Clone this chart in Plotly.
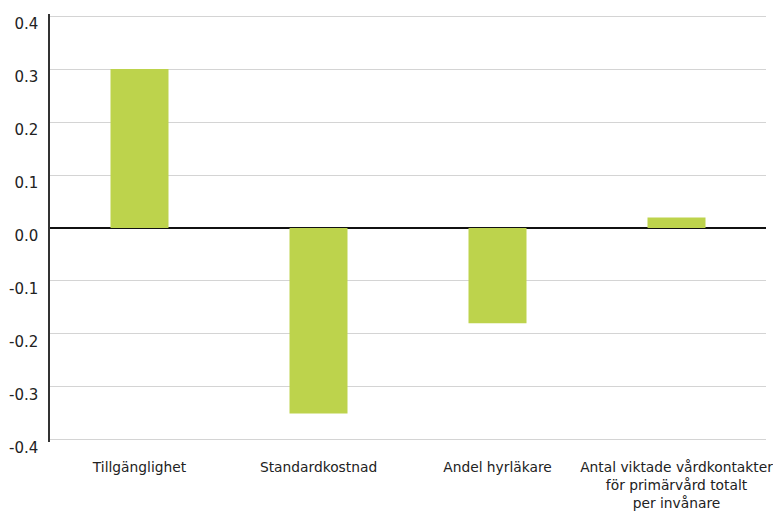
import plotly.graph_objects as go

categories = [
    "Tillgänglighet",
    "Standardkostnad",
    "Andel hyrläkare",
    "Antal viktade vårdkontakter<br>för primärvård totalt<br>per invånare",
]
values = [0.30, -0.35, -0.18, 0.02]
tick_vals = [-0.4, -0.3, -0.2, -0.1, 0.0, 0.1, 0.2, 0.3, 0.4]
tick_text = ["-0.4", "-0.3", "-0.2", "-0.1", "0.0", "0.1", "0.2", "0.3", "0.4"]

fig = go.Figure(
    go.Bar(
        x=categories,
        y=values,
        marker=dict(color="#BDD34C", line=dict(width=0)),
        width=0.324,
    )
)

fig.update_layout(
    width=773,
    height=512,
    margin=dict(l=50, r=7, t=14, b=70, autoexpand=False),
    paper_bgcolor="white",
    plot_bgcolor="white",
    showlegend=False,
    font=dict(family="DejaVu Sans, sans-serif", size=14, color="#222222"),
)

fig.update_xaxes(
    showgrid=False,
    showline=False,
    ticks="",
    automargin=False,
    ticklabelstandoff=15,
    tickfont=dict(family="DejaVu Sans, sans-serif", size=13.8, color="#222222"),
)

fig.update_yaxes(
    range=[-0.404, 0.404],
    tickvals=tick_vals,
    ticktext=tick_text,
    showgrid=True,
    gridcolor="#D4D4D4",
    gridwidth=1,
    zeroline=True,
    zerolinecolor="#111111",
    zerolinewidth=1.5,
    showline=True,
    linecolor="#333333",
    linewidth=1.5,
    ticks="",
    automargin=False,
    ticklabelshift=8,
    ticklabelstandoff=7,
    tickfont=dict(family="DejaVu Sans, sans-serif", size=15, color="#222222"),
)

fig.write_html("out.html")
